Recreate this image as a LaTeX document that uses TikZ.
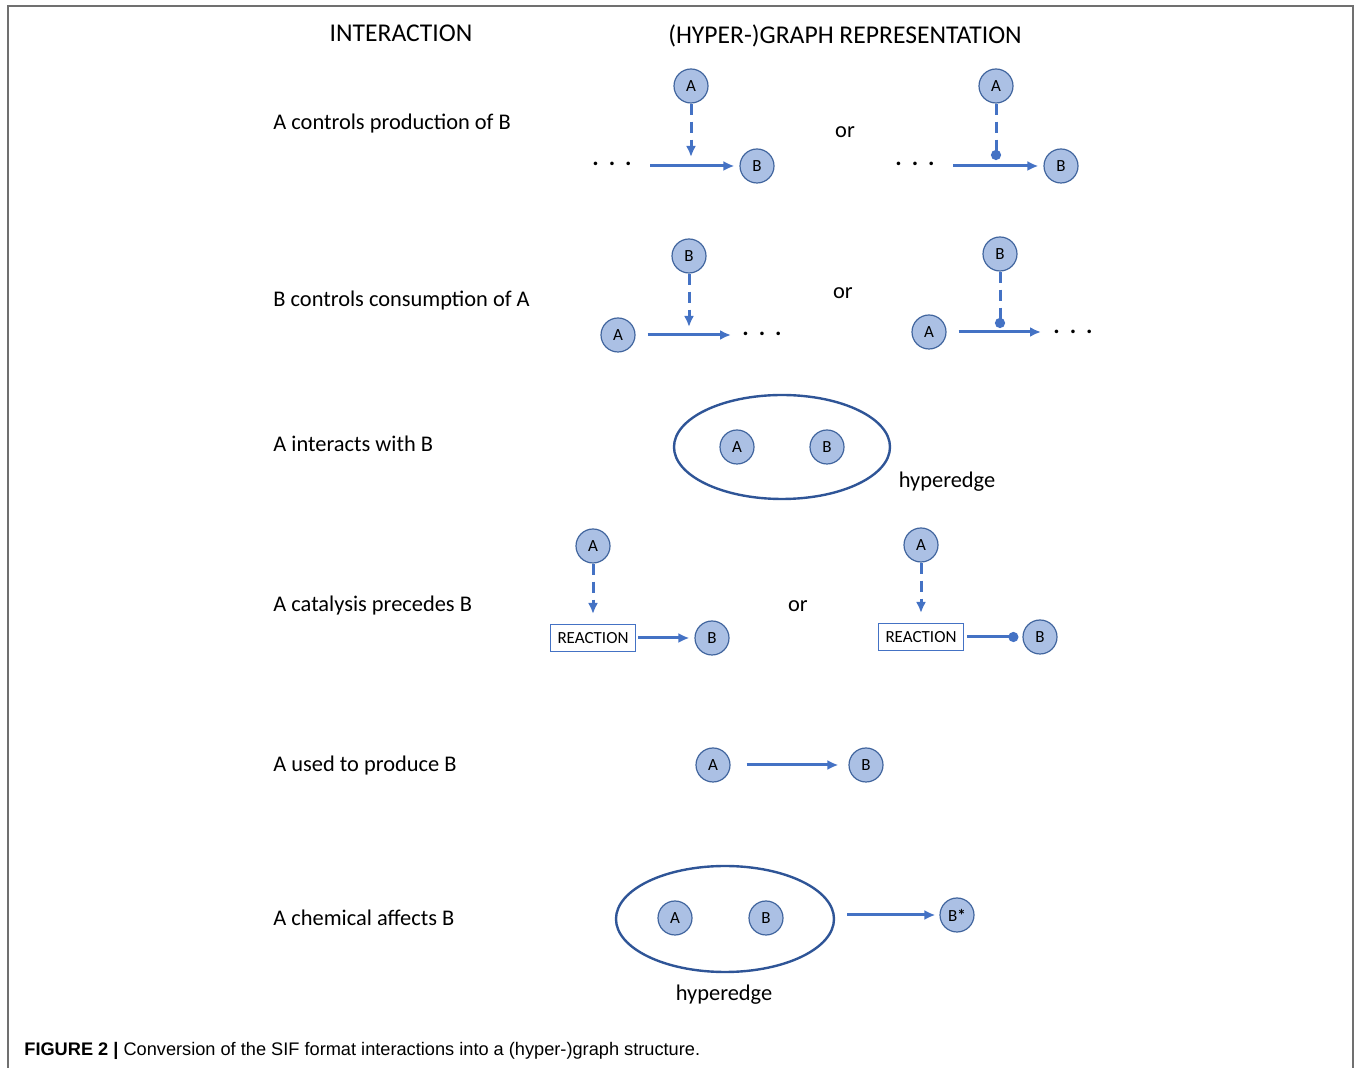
\documentclass[tikz,border=0pt]{standalone}
\usepackage{fontspec}
\setmainfont{Carlito}
\newfontfamily\capfont{Liberation Sans}
\usetikzlibrary{arrows.meta,shapes.geometric}
\definecolor{ablue}{HTML}{4472C4}
\definecolor{ndfill}{HTML}{ABC0E4}
\definecolor{ndborder}{HTML}{41659E}
\definecolor{edgeblue}{HTML}{2F5597}
\definecolor{framegray}{HTML}{707070}
\begin{document}
\begin{tikzpicture}[x=0.5pt,y=-0.5pt,
  nd/.style={circle,draw=ndborder,fill=ndfill,line width=0.6pt,minimum size=17pt,inner sep=0pt,font=\fontsize{8.5}{9}\selectfont},
  lbl/.style={anchor=west,inner sep=0pt,font=\fontsize{11.2}{13}\selectfont},
  hdr/.style={inner sep=0pt,font=\fontsize{12.8}{14}\selectfont},
  ortxt/.style={inner sep=0pt,font=\fontsize{11.2}{13}\selectfont},
  dots/.style={inner sep=0pt,font=\fontsize{12}{13}\bfseries\selectfont},
  arr/.style={draw=ablue,line width=1.5pt,-{Latex[length=5.5pt,width=5pt]}},
  darr/.style={arr,dash pattern=on 5.5pt off 3.5pt},
  dcirc/.style={draw=ablue,line width=1.5pt,dash pattern=on 5.5pt off 3.5pt,-{Circle[length=5pt]}},
  circend/.style={draw=ablue,line width=1.5pt,-{Circle[length=5pt]}},
  hyper/.style={ellipse,draw=edgeblue,line width=1.2pt,minimum width=108pt,minimum height=52pt},
  rbox/.style={draw=ablue,line width=0.5pt,minimum width=42.5pt,minimum height=13.5pt,inner sep=0pt,font=\fontsize{8.5}{9}\selectfont}
]
\useasboundingbox (0,0) rectangle (1356,1068);
\draw[framegray,line width=0.8pt] (8,1068) -- (8,6) -- (1353,6) -- (1353,1068);

% headers
\node[hdr] (h1) at (401,33) {INTERACTION};
\node[hdr] (h2) at (845,36) {(HYPER-)GRAPH REPRESENTATION};

% row labels
\node[lbl] (l1) at (273,124) {A controls production of B};
\node[lbl] (l2) at (273,301) {B controls consumption of A};
\node[lbl] (l3) at (273,444) {A interacts with B};
\node[lbl] (l4) at (273,606) {A catalysis precedes B};
\node[lbl] (l5) at (273,766) {A used to produce B};
\node[lbl] (l6) at (273,918) {A chemical affects B};

% ---- row 1
\node[nd] (r1a) at (691,86) {A};
\node[nd] (r1b) at (757,166) {B};
\node[dots] (r1d) at (612,164) {.\hspace{5pt}.\hspace{5pt}.};
\coordinate (r1s) at (650,166);
\coordinate (r1m) at (691,157);
\draw[arr] (r1s) -- ([xshift=-2.5pt]r1b.west);
\draw[darr] (r1a) -- (r1m);
\node[ortxt] (or1) at (845,132) {or};
\node[nd] (r1a2) at (996,86) {A};
\node[nd] (r1b2) at (1061,166) {B};
\node[dots] (r1d2) at (915,164) {.\hspace{5pt}.\hspace{5pt}.};
\coordinate (r1s2) at (953,166);
\coordinate (r1m2) at (996,160);
\draw[arr] (r1s2) -- ([xshift=-2.5pt]r1b2.west);
\draw[dcirc] (r1a2) -- (r1m2);

% ---- row 2
\node[nd] (r2b) at (689,256) {B};
\node[nd] (r2a) at (618,335) {A};
\node[dots] (r2d) at (762,334) {.\hspace{5pt}.\hspace{5pt}.};
\coordinate (r2e) at (731,335);
\coordinate (r2m) at (689,327);
\draw[arr] ([xshift=6pt]r2a.east) -- (r2e);
\draw[darr] (r2b) -- (r2m);
\node[ortxt] (or2) at (843,293) {or};
\node[nd] (r2b2) at (1000,254) {B};
\node[nd] (r2a2) at (929,332) {A};
\node[dots] (r2d2) at (1073,332) {.\hspace{5pt}.\hspace{5pt}.};
\coordinate (r2e2) at (1041,332);
\coordinate (r2m2) at (1000,328);
\draw[arr] ([xshift=6pt]r2a2.east) -- (r2e2);
\draw[dcirc] (r2b2) -- (r2m2);

% ---- row 3
\node[hyper] (e3) at (782,447) {};
\node[nd] (r3a) at (737,447) {A};
\node[nd] (r3b) at (827,447) {B};
\node[ortxt] (he3) at (947,482) {hyperedge};

% ---- row 4
\node[nd] (r4a) at (593,546) {A};
\node[rbox] (r4r) at (593,638) {REACTION};
\node[nd] (r4b) at (712,638) {B};
\draw[darr] (r4a) -- ([yshift=5pt]r4r.north);
\draw[arr] ([xshift=1pt]r4r.east) -- ([xshift=-2.5pt]r4b.west);
\node[ortxt] (or4) at (798,606) {or};
\node[nd] (r4a2) at (921,545) {A};
\node[rbox] (r4r2) at (921,637) {REACTION};
\node[nd] (r4b2) at (1040,637) {B};
\draw[darr] (r4a2) -- ([yshift=5pt]r4r2.north);
\draw[circend] ([xshift=1.5pt]r4r2.east) -- ([xshift=-2pt]r4b2.west);

% ---- row 5
\node[nd] (r5a) at (713,765) {A};
\node[nd] (r5b) at (866,765) {B};
\draw[arr] ([xshift=8pt]r5a.east) -- ([xshift=-5pt]r5b.west);

% ---- row 6
\node[hyper,minimum width=109pt,minimum height=53pt] (e6) at (725,919) {};
\node[nd] (r6a) at (675,918) {A};
\node[nd] (r6b) at (766,918) {B};
\node[ortxt] (he6) at (724,995) {hyperedge};
\node[nd] (r6bs) at (957,915) {B\textbf{*}};
\draw[arr] ([xshift=6pt]e6.east |- r6bs) -- ([xshift=-2pt]r6bs.west);

% caption
\node[anchor=west,inner sep=0pt,font=\capfont\fontsize{9.1}{11}\selectfont] (cap) at (24,1051) {\textbf{FIGURE 2 |} Conversion of the SIF format interactions into a (hyper-)graph structure.};
\end{tikzpicture}
\end{document}
